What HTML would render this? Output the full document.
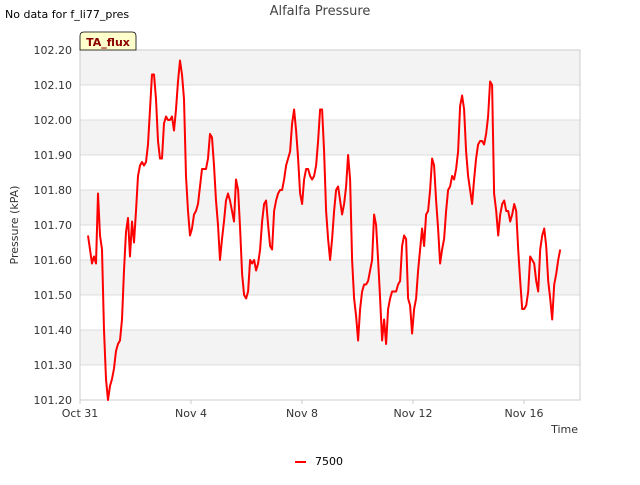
<!DOCTYPE html>
<html><head><meta charset="utf-8"><style>
body{margin:0;background:#fff;font-family:"Liberation Sans","DejaVu Sans",sans-serif;}
svg text{font-family:"DejaVu Sans","Liberation Sans",sans-serif;}
</style></head><body>
<svg id="chart" width="640" height="480" xmlns="http://www.w3.org/2000/svg">
<text x="5" y="18" font-size="11" fill="#000">No data for f_li77_pres</text>
<text x="320" y="15" font-size="13" fill="#444" text-anchor="middle">Alfalfa Pressure</text>
<g id="bands"></g>
<g id="grid"></g>
<g id="yticks"></g>
<g id="xticks"></g>
<rect x="80" y="50" width="500" height="350" fill="none" stroke="#ccc"/>
<path id="series" fill="none" stroke="#ff0000" stroke-width="2" stroke-linejoin="round"/>
<g>
<path d="M80,50 L80,36 Q80,32 84,32 L132,32 Q136,32 136,36 L136,50 Z" fill="#ffffcc" stroke="#000" stroke-width="0.8"/>
<text x="108" y="46" font-size="11" font-weight="bold" fill="#8b0000" text-anchor="middle">TA_flux</text>
</g>
<text transform="translate(18,225) rotate(-90)" font-size="11" fill="#333" text-anchor="middle">Pressure (kPA)</text>
<text x="578" y="433" font-size="11" fill="#333" text-anchor="end">Time</text>
<g>
<line x1="295" y1="462" x2="306" y2="462" stroke="#ff0000" stroke-width="2"/>
<text x="315" y="465" font-size="11" fill="#000">7500</text>
</g>
</svg>
<script>
const yTicks=[101.2,101.3,101.4,101.5,101.6,101.7,101.8,101.9,102.0,102.1,102.2];
const xTickDays=[0,4,8,12,16];
const xTickLabels=["Oct 31","Nov 4","Nov 8","Nov 12","Nov 16"];
const startDay=0.288, stepDay=0.0721;
const pressure=[101.67,101.63,101.59,101.61,101.59,101.79,101.67,101.63,101.40,101.26,101.20,101.24,101.26,101.29,101.34,101.36,101.37,101.43,101.57,101.68,101.72,101.61,101.71,101.65,101.74,101.84,101.87,101.88,101.87,101.88,101.93,102.03,102.13,102.13,102.06,101.94,101.89,101.89,101.99,102.01,102.00,102.00,102.01,101.97,102.03,102.11,102.17,102.13,102.06,101.84,101.74,101.67,101.69,101.73,101.74,101.76,101.81,101.86,101.86,101.86,101.89,101.96,101.95,101.87,101.77,101.70,101.60,101.66,101.71,101.77,101.79,101.77,101.74,101.71,101.83,101.80,101.69,101.56,101.50,101.49,101.51,101.60,101.59,101.60,101.57,101.59,101.63,101.71,101.76,101.77,101.70,101.64,101.63,101.74,101.77,101.79,101.80,101.80,101.83,101.87,101.89,101.91,101.99,102.03,101.97,101.89,101.79,101.76,101.83,101.86,101.86,101.84,101.83,101.84,101.87,101.94,102.03,102.03,101.91,101.74,101.66,101.60,101.66,101.74,101.80,101.81,101.77,101.73,101.76,101.81,101.90,101.83,101.60,101.49,101.44,101.37,101.46,101.51,101.53,101.53,101.54,101.57,101.60,101.73,101.70,101.60,101.49,101.37,101.43,101.36,101.46,101.49,101.51,101.51,101.51,101.53,101.54,101.64,101.67,101.66,101.49,101.47,101.39,101.46,101.49,101.57,101.63,101.69,101.64,101.73,101.74,101.80,101.89,101.87,101.77,101.69,101.59,101.63,101.66,101.74,101.80,101.81,101.84,101.83,101.86,101.91,102.04,102.07,102.03,101.91,101.84,101.80,101.76,101.83,101.89,101.93,101.94,101.94,101.93,101.96,102.01,102.11,102.10,101.79,101.74,101.67,101.73,101.76,101.77,101.74,101.74,101.71,101.73,101.76,101.74,101.63,101.54,101.46,101.46,101.47,101.51,101.61,101.60,101.59,101.54,101.51,101.63,101.67,101.69,101.64,101.54,101.49,101.43,101.53,101.56,101.60,101.63];
const X0=80,X1=580,Y0=50,Y1=400,D0=0,D1=18.018,P0=101.2,P1=102.2;
const xs=d=>X0+(d-D0)/(D1-D0)*(X1-X0);
const ys=p=>Y1-(p-P0)/(P1-P0)*(Y1-Y0);
const NS="http://www.w3.org/2000/svg";
function mk(tag,attrs,parent,txt){const e=document.createElementNS(NS,tag);for(const k in attrs)e.setAttribute(k,attrs[k]);if(txt!==undefined)e.textContent=txt;document.getElementById(parent).appendChild(e);return e;}
for(let i=0;i<yTicks.length-1;i++){
  if((yTicks.length-2-i)%2===0){
    const r=mk('rect',{x:X0,y:ys(yTicks[i+1]),width:X1-X0,height:ys(yTicks[i])-ys(yTicks[i+1]),fill:'#f3f3f3'},'bands');
    
    
  }
}
yTicks.forEach(v=>{
  const l=mk('line',{x1:X0,x2:X1,y1:ys(v),y2:ys(v),stroke:'#dedede'},'grid');
  
  
  const t=mk('text',{x:X0-8,y:ys(v)+4,'font-size':11,fill:'#333','text-anchor':'end'},'yticks',v.toFixed(2));
  
  
});
xTickDays.forEach((d,i)=>{
  const l=mk('line',{x1:xs(d),x2:xs(d),y1:Y1,y2:Y1+4,stroke:'#ccc'},'xticks');
  
  
  const t=mk('text',{x:xs(d),y:Y1+17,'font-size':11,fill:'#333','text-anchor':'middle'},'xticks',xTickLabels[i]);
  
  
});
let dstr='';
pressure.forEach((p,i)=>{const d=startDay+i*stepDay;dstr+=(i?'L':'M')+xs(d).toFixed(1)+','+ys(p).toFixed(1);});
document.getElementById('series').setAttribute('d',dstr);
</script>
</body></html>
